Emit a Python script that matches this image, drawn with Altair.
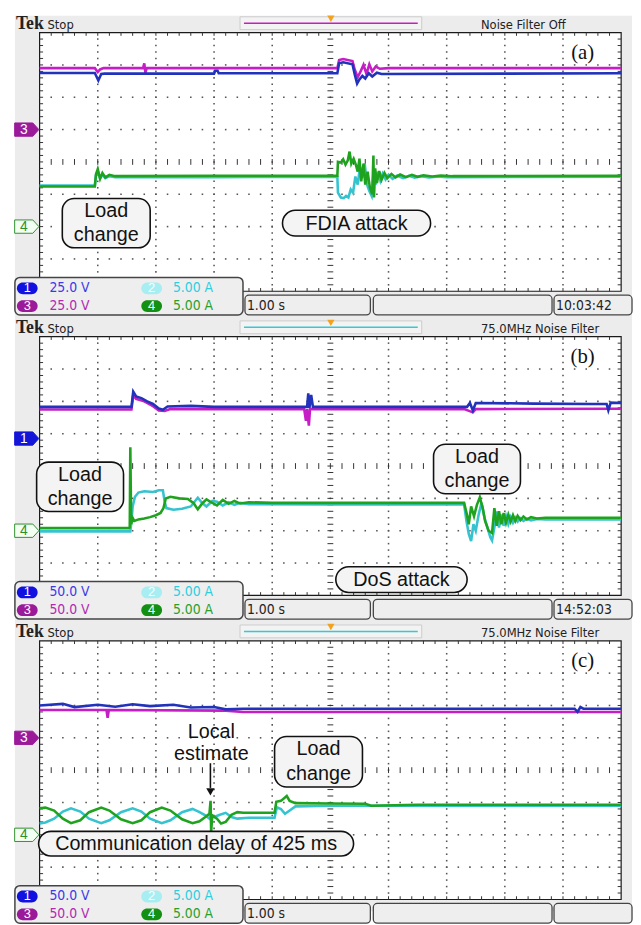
import altair as alt
import pandas as pd

# ---------------------------------------------------------------- data
# trace samples read off the screens, in divisions (x: 0-10, y: 0-8)
A_CH3 = [(0, 6.90), (0.95, 6.90), (1.0, 6.78), (1.04, 6.86), (1.1, 6.90), (1.78, 6.90), (1.8, 7.05),
         (1.82, 6.75), (1.84, 6.90), (3.0, 6.90), (5.12, 6.90), (5.15, 7.15), (5.22, 7.18), (5.38, 7.12),
         (5.42, 6.85), (5.47, 6.62), (5.52, 6.80), (5.57, 7.00), (5.62, 6.72), (5.67, 7.02), (5.72, 6.80),
         (5.78, 6.95), (5.85, 6.88), (6.0, 6.90), (10, 6.90)]
A_CH1 = [(0, 6.75), (0.95, 6.75), (1.01, 6.52), (1.06, 6.72), (1.12, 6.73), (3.0, 6.73), (3.02, 6.82),
         (3.06, 6.82), (3.08, 6.74), (5.12, 6.74), (5.15, 7.05), (5.22, 7.08), (5.38, 7.02), (5.42, 6.70),
         (5.46, 6.42), (5.50, 6.55), (5.55, 6.66), (5.60, 6.58), (5.66, 6.74), (5.72, 6.64), (5.80, 6.76),
         (5.88, 6.72), (10, 6.74)]
A_CH4 = [(0, 3.24), (0.95, 3.24), (0.97, 3.62), (1.0, 3.78), (1.04, 3.48), (1.08, 3.66), (1.13, 3.52),
         (1.2, 3.6), (1.3, 3.56), (3.0, 3.57), (5.12, 3.57), (5.13, 4.0), (5.18, 3.98), (5.22, 4.08),
         (5.26, 3.92), (5.30, 4.05), (5.33, 4.32), (5.36, 3.95), (5.40, 4.1), (5.44, 3.9), (5.47, 3.7),
         (5.50, 4.1), (5.53, 3.4), (5.57, 3.95), (5.60, 3.3), (5.64, 3.7), (5.68, 3.2), (5.72, 3.0),
         (5.74, 4.2), (5.75, 2.9), (5.77, 3.8), (5.80, 3.35), (5.84, 3.72), (5.88, 3.45), (5.93, 3.66),
         (5.98, 3.5), (6.05, 3.63), (6.12, 3.52), (6.2, 3.61), (6.3, 3.53), (6.4, 3.6), (6.5, 3.54),
         (6.6, 3.59), (6.75, 3.55), (6.9, 3.58), (7.1, 3.56), (10, 3.57)]
A_CH2 = [(0, 3.27), (0.95, 3.27), (0.97, 3.6), (1.0, 3.72), (1.04, 3.5), (1.08, 3.6), (1.13, 3.5),
         (1.2, 3.56), (1.3, 3.53), (3.0, 3.53), (5.12, 3.54), (5.13, 3.05), (5.18, 2.9), (5.23, 2.88),
         (5.27, 2.95), (5.31, 2.9), (5.35, 3.15), (5.39, 3.05), (5.43, 3.55), (5.47, 3.3), (5.51, 3.85),
         (5.55, 3.5), (5.59, 3.95), (5.63, 3.3), (5.67, 3.1), (5.71, 2.95), (5.74, 3.6), (5.78, 3.3),
         (5.82, 3.7), (5.86, 3.42), (5.9, 3.64), (5.95, 3.46), (6.0, 3.6), (6.07, 3.48), (6.15, 3.58),
         (6.25, 3.5), (6.35, 3.57), (6.45, 3.51), (6.55, 3.56), (6.7, 3.52), (6.85, 3.55), (7.0, 3.53),
         (10, 3.54)]

B_CH1 = [(0, 5.83), (1.58, 5.83), (1.61, 6.30), (1.66, 6.15), (1.75, 6.10), (1.85, 6.0), (1.95, 5.92),
         (2.05, 5.78), (2.12, 5.74), (2.2, 5.84), (2.6, 5.86), (3.0, 5.83), (4.6, 5.83), (4.62, 6.25),
         (4.64, 5.80), (4.67, 6.2), (4.70, 5.83), (7.35, 5.83), (7.40, 5.95), (7.45, 5.72), (7.5, 5.95),
         (8.5, 5.93), (9.5, 5.92), (9.75, 5.92), (9.78, 5.72), (9.82, 5.96), (10, 5.95)]
B_CH3 = [(0, 5.75), (1.58, 5.75), (1.61, 6.2), (1.66, 6.08), (1.8, 6.0), (1.95, 5.85), (2.05, 5.72),
         (2.15, 5.7), (2.25, 5.76), (4.55, 5.76), (4.58, 5.4), (4.6, 5.76), (4.63, 5.25), (4.65, 5.76),
         (7.3, 5.76), (7.45, 5.66), (7.5, 5.76), (10, 5.77)]
B_CH4 = [(0, 2.08), (1.53, 2.08), (1.55, 2.1), (1.56, 4.58), (1.575, 2.2), (1.6, 2.4), (1.63, 2.3),
         (1.7, 2.35), (1.8, 2.38), (1.9, 2.42), (2.0, 2.48), (2.08, 2.55), (2.13, 2.7), (2.17, 3.0),
         (2.25, 3.05), (2.4, 3.0), (2.55, 2.98), (2.65, 2.85), (2.72, 2.66), (2.8, 2.85), (2.87, 2.97),
         (2.95, 2.88), (3.05, 2.78), (3.15, 2.95), (3.25, 2.83), (3.35, 2.92), (3.45, 2.84), (3.6, 2.88),
         (4.0, 2.86), (5.0, 2.86), (6.0, 2.86), (7.3, 2.86), (7.34, 2.56), (7.38, 2.2), (7.42, 2.75),
         (7.47, 2.45), (7.52, 2.8), (7.57, 3.03), (7.62, 2.7), (7.66, 2.3), (7.72, 2.0), (7.78, 1.93),
         (7.82, 2.7), (7.86, 2.15), (7.9, 2.6), (7.94, 2.2), (7.98, 2.55), (8.02, 2.25), (8.06, 2.5),
         (8.1, 2.28), (8.14, 2.48), (8.18, 2.3), (8.22, 2.46), (8.27, 2.33), (8.32, 2.44), (8.38, 2.35),
         (8.45, 2.42), (8.55, 2.38), (8.7, 2.4), (10, 2.40)]
B_CH2 = [(0, 1.98), (1.56, 1.98), (1.58, 2.3), (1.6, 2.75), (1.64, 3.05), (1.7, 3.18), (1.8, 3.22),
         (1.95, 3.2), (2.05, 3.25), (2.12, 3.25), (2.15, 2.9), (2.18, 2.7), (2.3, 2.65), (2.45, 2.68),
         (2.6, 2.75), (2.72, 3.02), (2.8, 2.85), (2.87, 2.75), (2.97, 2.92), (3.05, 2.9), (3.15, 2.78),
         (3.25, 2.88), (3.35, 2.8), (3.45, 2.86), (3.6, 2.82), (5.0, 2.81), (7.3, 2.81), (7.34, 2.3),
         (7.38, 1.9), (7.42, 1.68), (7.46, 2.2), (7.5, 2.0), (7.55, 2.5), (7.6, 2.86), (7.65, 2.4),
         (7.7, 2.1), (7.75, 1.8), (7.78, 1.7), (7.82, 2.1), (7.86, 2.6), (7.9, 2.1), (7.94, 2.5),
         (7.98, 2.15), (8.02, 2.45), (8.06, 2.2), (8.1, 2.42), (8.14, 2.25), (8.18, 2.4), (8.22, 2.28),
         (8.27, 2.38), (8.32, 2.3), (8.38, 2.37), (8.45, 2.32), (8.55, 2.36), (8.7, 2.35), (10, 2.35)]

C_CH1 = [(0, 6.0), (0.4, 6.05), (0.6, 5.95), (1.0, 6.02), (1.3, 5.96), (1.6, 6.04), (1.9, 5.98),
         (2.3, 6.02), (2.6, 5.94), (3.0, 5.95), (3.2, 5.88), (3.5, 5.9), (5.0, 5.9), (9.2, 5.9),
         (9.25, 5.8), (9.3, 5.95), (9.35, 5.9), (10, 5.9)]
C_CH3 = [(0, 5.86), (1.15, 5.86), (1.17, 5.62), (1.19, 5.86), (3.2, 5.84), (3.5, 5.8), (10, 5.8)]
C_CH4 = [(0, 2.82), (0.1, 2.84), (0.25, 2.75), (0.4, 2.5), (0.54, 2.36), (0.7, 2.45), (0.85, 2.7),
         (1.06, 2.84), (1.2, 2.75), (1.4, 2.48), (1.6, 2.36), (1.75, 2.45), (1.9, 2.7), (2.1, 2.84),
         (2.25, 2.75), (2.45, 2.48), (2.63, 2.36), (2.75, 2.42), (2.85, 2.55), (2.92, 2.65), (2.94, 3.05),
         (2.95, 2.1), (2.97, 2.6), (3.05, 2.5), (3.12, 2.35), (3.2, 2.4), (3.3, 2.62), (3.4, 2.7),
         (3.5, 2.68), (4.04, 2.68), (4.07, 3.02), (4.15, 3.05), (4.25, 3.2), (4.3, 3.05), (4.4, 2.98),
         (5.0, 2.97), (5.6, 2.96), (5.7, 2.9), (6.5, 2.93), (10, 2.93)]
C_CH2 = [(0, 2.35), (0.1, 2.38), (0.25, 2.5), (0.4, 2.72), (0.54, 2.82), (0.7, 2.72), (0.85, 2.5),
         (1.06, 2.36), (1.2, 2.45), (1.4, 2.7), (1.6, 2.82), (1.75, 2.72), (1.9, 2.5), (2.1, 2.36),
         (2.25, 2.45), (2.45, 2.7), (2.63, 2.8), (2.75, 2.7), (2.85, 2.6), (2.92, 2.5), (2.95, 2.6),
         (3.0, 2.55), (3.1, 2.62), (3.2, 2.68), (3.3, 2.55), (3.4, 2.5), (3.6, 2.53), (4.04, 2.53),
         (4.08, 2.85), (4.15, 2.8), (4.22, 2.65), (4.3, 2.75), (4.4, 2.88), (5.0, 2.9), (10, 2.9)]

# channel ground markers (label, level in divisions)
A_MARKERS = [("3", 5.0), ("4", 2.0)]
B_MARKERS = [("1", 4.85), ("4", 2.0)]
C_MARKERS = [("3", 5.0), ("4", 2.0)]

A_SCALES = ["25.0 V", "25.0 V", "5.00 A", "5.00 A"]
B_SCALES = ["50.0 V", "50.0 V", "5.00 A", "5.00 A"]
C_SCALES = ["50.0 V", "50.0 V", "5.00 A", "5.00 A"]
TIMEBASE = "1.00 s"
CLOCKS = ["10:03:42", "14:52:03", ""]
NOISE_TEXT = ["Noise Filter Off", "75.0MHz  Noise Filter", "75.0MHz  Noise Filter"]
PANEL_LABELS = ["(a)", "(b)", "(c)"]

# ---------------------------------------------------------------- style / layout
CH1, CH2, CH3, CH4 = "#2233bb", "#35c3d0", "#c61ec6", "#1fa31f"
SANS = "Liberation Sans, Arial, sans-serif"
NARROW = "Liberation Sans Narrow, Arial Narrow, DejaVu Sans Condensed, sans-serif"
SERIF = "Liberation Serif, Times New Roman, serif"
ORANGE = "#f2a21c"

XPX, YPX, LEFT, TOP0, PERIOD = 58.9, 32.75, 40, 27, 308
W = 625
HEIGHTS = [308, 308, 293]
MARKER_PATH = "M -1 -0.55 L 0.5 -0.55 L 1 0 L 0.5 0.55 L -1 0.55 Z"


def X(px):
    return (px - LEFT) / XPX


def Y(py, i):
    return 8 - (py - TOP0 - PERIOD * i) / YPX


def scales(i):
    top = 8 + PERIOD * i
    xs = alt.Scale(domain=[X(8), X(8 + W)], nice=False, zero=False)
    ys = alt.Scale(domain=[Y(top + HEIGHTS[i], i), Y(top, i)], nice=False, zero=False)
    return xs, ys


def enc(i, two=False):
    xs, ys = scales(i)
    e = dict(x=alt.X("x:Q", scale=xs, axis=None), y=alt.Y("y:Q", scale=ys, axis=None))
    if two:
        e["x2"] = alt.X2("x2:Q")
        e["y2"] = alt.Y2("y2:Q")
    return e


def boxes(i, rows, **mk):
    df = pd.DataFrame([dict(x=X(a), x2=X(c), y=Y(b, i), y2=Y(d, i)) for a, b, c, d in rows])
    return alt.Chart(df).mark_rect(**mk).encode(**enc(i, True))


def texts(i, rows, **mk):
    df = pd.DataFrame([dict(x=X(a), y=Y(b, i), t=t) for a, b, t in rows])
    mk.setdefault("baseline", "middle")
    return alt.Chart(df).mark_text(**mk).encode(text="t:N", **enc(i))


def segs(i, rows, **mk):
    df = pd.DataFrame(rows, columns=["x", "x2", "y", "y2"])
    return alt.Chart(df).mark_rule(**mk).encode(**enc(i, True))


def dots(i, rows, **mk):
    df = pd.DataFrame(rows, columns=["x", "y"])
    return alt.Chart(df).mark_point(**mk).encode(**enc(i))


def trace(i, pts, color, w=2.6):
    df = pd.DataFrame(pts, columns=["x", "y"])
    df["k"] = range(len(df))
    return alt.Chart(df).mark_line(color=color, strokeWidth=w).encode(order="k:Q", **enc(i))


def panel(i, ch1, ch3, ch2, ch4, markers, scales_txt, trig_color, annotations):
    o = PERIOD * i
    top = 8 + o
    L = []
    # background
    L.append(boxes(i, [(15, (10 if i == 0 else top), 640, top + HEIGHTS[i])], color="#ececec"))
    # header
    L.append(boxes(i, [(243, 11 + o, 427, 24 + o)], fill="#f3f3f3", stroke="#cccccc", strokeWidth=1))
    L.append(segs(i, [(X(247), X(423), Y(17.5 + o, i), Y(17.5 + o, i))], color=trig_color, strokeWidth=1.6))
    L.append(dots(i, [(X(335), Y(13 + o, i)), (X(335), Y(31 + o, i))], shape="triangle-down",
                  filled=True, color=ORANGE, size=55, opacity=1))
    L.append(texts(i, [(16, 18 + o, "Tek")], font=SERIF, fontWeight="bold", fontSize=18,
                   align="left", color="#222222"))
    L.append(texts(i, [(48, 19 + o, "Stop")], font=NARROW, fontSize=13, align="left", color="#222222"))
    L.append(texts(i, [(487, 19 + o, NOISE_TEXT[i])], font=NARROW, fontSize=13, align="left",
                   color="#222222"))
    # plot area
    L.append(boxes(i, [(LEFT, TOP0 + o, LEFT + 10 * XPX, TOP0 + o + 8 * YPX)], fill="white",
                   stroke="#1a1a1a", strokeWidth=1.2))
    # graticule
    gd = [(gx, k / 5) for gx in range(1, 10) if gx != 5 for k in range(1, 40)]
    gd += [(k / 5, gy) for gy in range(1, 8) if gy != 4 for k in range(1, 50)]
    L.append(dots(i, gd, shape="square", filled=True, color="#555555", size=2.5, opacity=1))
    tk = []
    for k in range(1, 50):
        xv = k / 5
        tk += [(xv, xv, 8, 7.9), (xv, xv, 0, 0.1), (xv, xv, 3.91, 4.09)]
    for k in range(1, 40):
        yv = k / 5
        tk += [(0, 0.06, yv, yv), (9.94, 10, yv, yv), (4.95, 5.05, yv, yv)]
    L.append(segs(i, tk, color="#333333", strokeWidth=1))
    # traces
    L.append(trace(i, ch3, CH3))
    L.append(trace(i, ch1, CH1))
    L.append(trace(i, ch2, CH2))
    L.append(trace(i, ch4, CH4))
    # annotations
    L.extend(annotations)
    L.append(texts(i, [(590, 48 + o, PANEL_LABELS[i])], font=SERIF, fontSize=21, align="center",
                   color="#111111"))
    # channel markers
    for lab, lvl in markers:
        if lab == "4":
            fill, stroke, tc = "#f4fff4", "#2f8f2f", "#2f8f2f"
        elif lab == "3":
            fill, stroke, tc = "#9a1a9a", "#9a1a9a", "white"
        else:
            fill, stroke, tc = "#1515d8", "#1515d8", "white"
        L.append(dots(i, [(X(27), lvl)], shape=MARKER_PATH, size=600, filled=True, fill=fill,
                      stroke=stroke, strokeWidth=1, opacity=1))
        L.append(alt.Chart(pd.DataFrame([dict(x=X(24), y=lvl, t=lab)])).mark_text(
            font=SANS, fontSize=14, color=tc, baseline="middle").encode(text="t:N", **enc(i)))
    # status bar
    L.append(boxes(i, [(15, 275 + o, 246, 313 + o)], fill="#eeeeee", stroke="#444444",
                   strokeWidth=1.5, cornerRadius=5))
    L.append(boxes(i, [(17, 280 + o, 38, 292 + o)], color="#1212e0", cornerRadius=6))
    L.append(boxes(i, [(17, 298 + o, 38, 310 + o)], color="#9a1a9a", cornerRadius=6))
    L.append(boxes(i, [(143, 280 + o, 164, 292 + o)], color="#a6eef2", cornerRadius=6))
    L.append(boxes(i, [(143, 298 + o, 164, 310 + o)], color="#129012", cornerRadius=6))
    L.append(texts(i, [(27.5, 286 + o, "1"), (27.5, 304 + o, "3"), (153.5, 286 + o, "2"),
                       (153.5, 304 + o, "4")], font=SANS, fontSize=13, color="white"))
    L.append(texts(i, [(50, 286 + o, scales_txt[0])], font=NARROW, fontSize=14, align="left", color="#3a3ae8"))
    L.append(texts(i, [(50, 304 + o, scales_txt[1])], font=NARROW, fontSize=14, align="left", color="#b22ab2"))
    L.append(texts(i, [(175, 286 + o, scales_txt[2])], font=NARROW, fontSize=14, align="left", color="#2ccfe0"))
    L.append(texts(i, [(175, 304 + o, scales_txt[3])], font=NARROW, fontSize=14, align="left", color="#2aa02a"))
    L.append(boxes(i, [(248, 293 + o, 375, 313 + o), (378, 293 + o, 559, 313 + o),
                       (561, 293 + o, 640, 313 + o)], fill="#eeeeee", stroke="#444444",
                   strokeWidth=1.3, cornerRadius=4))
    L.append(texts(i, [(250, 304 + o, TIMEBASE), (563, 304 + o, CLOCKS[i])], font=NARROW,
                   fontSize=14, align="left", color="#222222"))
    return alt.layer(*L).properties(width=W, height=HEIGHTS[i])


def callout(i, box, lines, r=12):
    layers = [boxes(i, [box], fill="#f4f4f4", stroke="#111111", strokeWidth=1.6, cornerRadius=r)]
    layers.append(texts(i, lines, font=SANS, fontSize=20, align="center", color="#111111"))
    return layers


ann_a = callout(0, (63, 195, 152, 245), [(107.5, 208, "Load"), (107.5, 232, "change")]) + \
    callout(0, (286, 207, 436, 233), [(361, 220.5, "FDIA attack")], r=13)
ann_b = callout(1, (37, 462, 125, 512), [(81, 475, "Load"), (81, 499, "change")]) + \
    callout(1, (439, 444, 527, 494), [(483, 457, "Load"), (483, 481, "change")]) + \
    callout(1, (340, 568, 473, 594), [(406.5, 581.5, "DoS attack")], r=13)
ann_c = callout(2, (278, 740, 367, 791), [(322.5, 753, "Load"), (322.5, 778, "change")]) + \
    callout(2, (39, 836, 358, 861), [(198.5, 849, "Communication delay of 425 ms")], r=13) + \
    [texts(2, [(214, 735, "Local"), (214, 758, "estimate")], font=SANS, fontSize=20,
           align="center", color="#111111"),
     segs(2, [(X(213), X(213), Y(767, 2), Y(792, 2))], color="#111111", strokeWidth=1.6),
     dots(2, [(X(213), Y(796, 2))], shape="triangle-down", filled=True, color="#111111",
          size=70, opacity=1)]

pa = panel(0, A_CH1, A_CH3, A_CH2, A_CH4, A_MARKERS, A_SCALES, "#c31ec3", ann_a)
pb = panel(1, B_CH1, B_CH3, B_CH2, B_CH4, B_MARKERS, B_SCALES, "#35c8d8", ann_b)
pc = panel(2, C_CH1, C_CH3, C_CH2, C_CH4, C_MARKERS, C_SCALES, "#35c8d8", ann_c)

chart = alt.vconcat(pa, pb, pc, spacing=0, bounds="flush").properties(
    padding=0, background="white"
).configure_view(stroke=None)

chart.save("out.html", embed_options={"renderer": "svg", "actions": False})
